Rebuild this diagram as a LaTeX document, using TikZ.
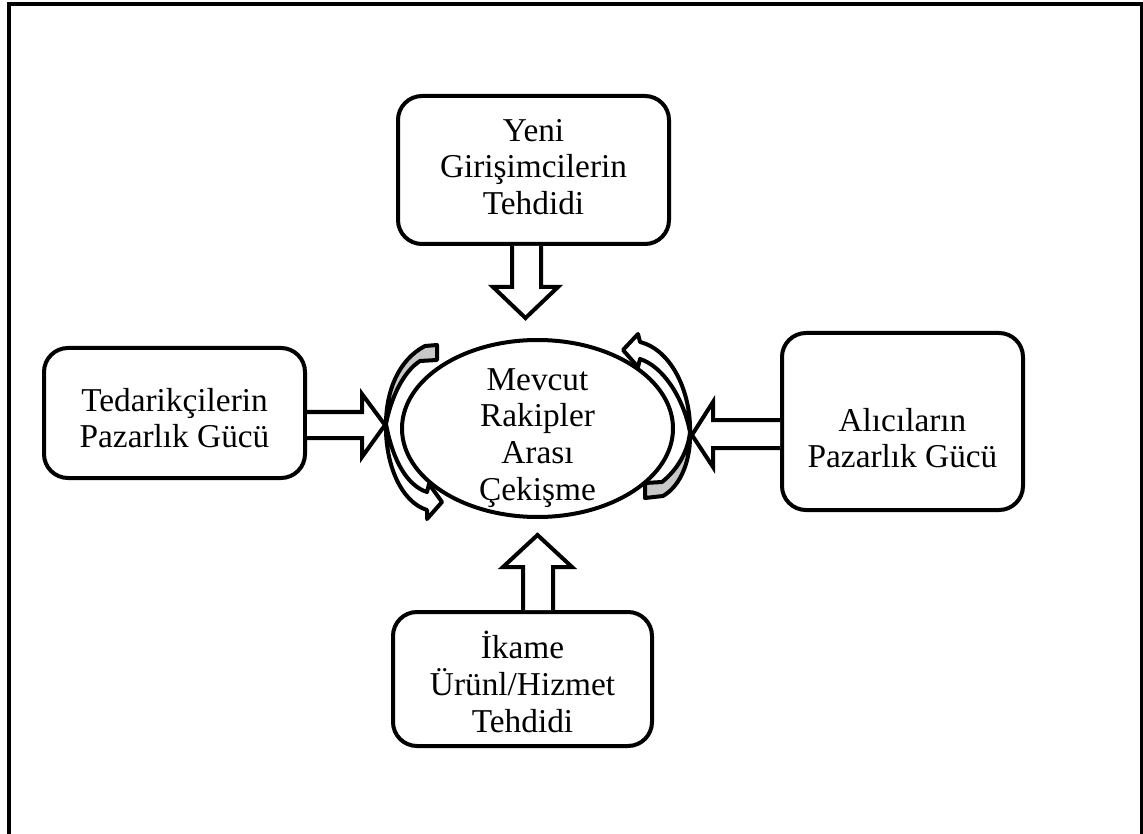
\documentclass[tikz,border=0pt]{standalone}
\usepackage{fontspec}
\setmainfont{Liberation Serif}
\usetikzlibrary{shapes.geometric,calc}
\definecolor{crescent}{RGB}{200,200,200}
\begin{document}
\begin{tikzpicture}[x=0.75pt,y=-0.75pt,
  every node/.style={font=\fontsize{25}{27.6}\selectfont, align=center},
  forcebox/.style={draw, line width=3pt, rounded corners=18pt, inner sep=0pt},
  core/.style={draw, ellipse, line width=3pt, inner sep=0pt},
  blockarrow/.style={draw, fill=white, line width=3pt, line join=miter},
  curvedband/.style={draw, line width=3pt, line join=round}
]
\useasboundingbox (0,0) rectangle (1143,834);
% frame
\draw[line width=3.2pt] (9,834) -- (9,4) -- (1142,4) -- (1142,834);

% boxes
\node[forcebox, minimum width=203.25pt, minimum height=111pt] (yeni) at (533.5,170) {};
\node (yenit) at (533.5,167) {Yeni\\Girişimcilerin\\Tehdidi};
\node[forcebox, minimum width=195.75pt, minimum height=97.5pt] (tedarik) at (174.5,413) {};
\node (tedarikt) at (174.5,418) {Tedarikçilerin\\Pazarlık Gücü};
\node[forcebox, minimum width=180.75pt, minimum height=132.75pt] (alici) at (902.5,421.5) {};
\node (alicit) at (902.5,438) {Alıcıların\\Pazarlık Gücü};
\node[forcebox, minimum width=194.25pt, minimum height=100.5pt] (ikame) at (522.5,679) {};
\node (ikamet) at (522.5,682) {İkame\\Ürünl/Hizmet\\Tehdidi};
\node[core, minimum width=203.25pt, minimum height=132.75pt] (mevcut) at (537.5,428.5) {};
\node (mevcutt) at (537.5,438) {Mevcut\\Rakipler\\Arası\\Çekişme};

% straight block arrows
\draw[blockarrow] (512,0 |- yeni.south) -- (512,287) -- (493,287) -- (525.5,318) -- (558,287) -- (541,287) -- (541,0 |- yeni.south);
\draw[blockarrow] (tedarik.east |- 0,412) -- (362,412) -- (362,394) -- (385,425) -- (362,457) -- (362,438) -- (tedarik.east |- 0,438);
\draw[blockarrow] (alici.west |- 0,420) -- (713,420) -- (713,402) -- (692,435) -- (713,467) -- (713,448) -- (alici.west |- 0,448);
\draw[blockarrow] (523,0 |- ikame.north) -- (523,567) -- (503,567) -- (537.5,535) -- (572,567) -- (553,567) -- (553,0 |- ikame.north);

% left curved arrow
\coordinate (lt) at (386,424);
\draw[curvedband, fill=crescent] (437,345) -- (437,360) -- (420,361) .. controls (403,372) and (391,398) .. (lt) .. controls (386,392) and (398,360) .. (425,346) -- cycle;
\draw[curvedband, fill=white] (lt) .. controls (385,464) and (401,502) .. (427,510) -- (427,519) -- (442,502) -- (429,484) -- (427,492) .. controls (408,486) and (393,462) .. (lt) -- cycle;

% right curved arrow
\coordinate (rt) at (690,432);
\draw[curvedband, fill=crescent] (645,498) -- (645,483) -- (662,482) .. controls (677,470) and (688,452) .. (rt) .. controls (691,458) and (682,485) .. (663,496) -- cycle;
\draw[curvedband, fill=white] (rt) .. controls (691,393) and (672,350) .. (640,342) -- (638,334) -- (623,350) -- (638,367) -- (640,359) .. controls (662,366) and (683,396) .. (rt) -- cycle;
\end{tikzpicture}
\end{document}
